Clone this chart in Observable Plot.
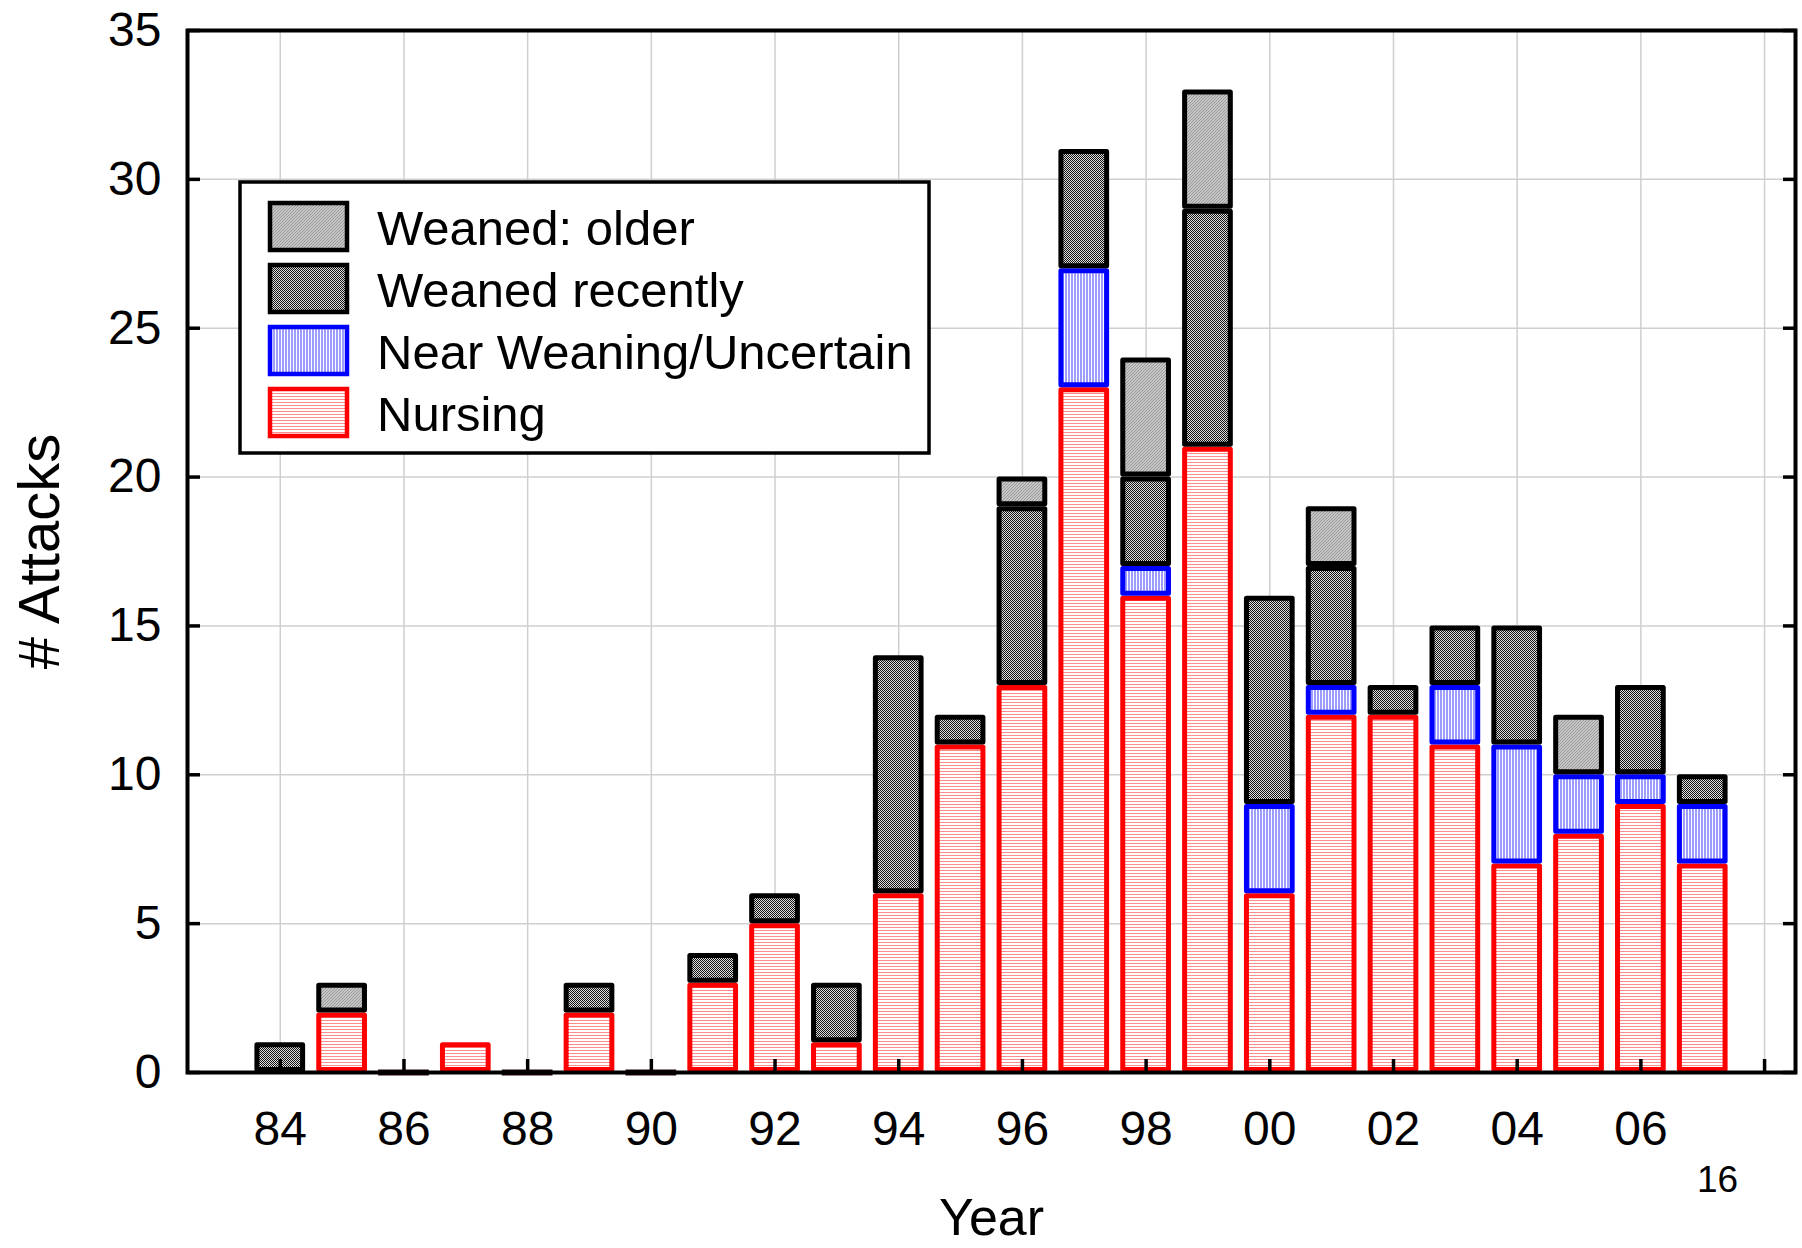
<!DOCTYPE html>
<html><head><meta charset="utf-8">
<script src="https://cdn.jsdelivr.net/npm/d3@7"></script>
<script src="https://cdn.jsdelivr.net/npm/@observablehq/plot@0.6"></script>
<style>
body{margin:0;background:#fff}
#chart{position:relative;width:1802px;height:1248px;overflow:hidden}
</style>
</head><body><div id="chart"></div>
<script>
// ---------- data ----------
const years = [1984,1985,1986,1987,1988,1989,1990,1991,1992,1993,1994,1995,1996,1997,1998,1999,2000,2001,2002,2003,2004,2005,2006,2007];
const nursing        = [0,2,0,1,0,2,0,3,5,1,6,11,13,23,16,21,6,12,12,11,7,8,9,7];
const nearWeaning    = [0,0,0,0,0,0,0,0,0,0,0,0,0,4,1,0,3,1,0,2,4,2,1,2];
const weanedRecently = [1,0,0,0,0,1,0,1,1,2,8,1,6,4,3,8,7,4,1,2,4,0,3,1];
const weanedOlder    = [0,1,0,0,0,0,0,0,0,0,0,0,1,0,4,4,0,2,0,0,0,2,0,0];
const seriesNames = ["Nursing","Near Weaning/Uncertain","Weaned recently","Weaned: older"];
const legendOrder = ["Weaned: older","Weaned recently","Near Weaning/Uncertain","Nursing"];
const yTicks = [0,5,10,15,20,25,30,35];
const xTicks = [1984,1986,1988,1990,1992,1994,1996,1998,2000,2002,2004,2006,2008];
const xTickLabels = ["84","86","88","90","92","94","96","98","00","02","04","06",""];
const yLabel = "# Attacks", xLabel = "Year", cornerNote = "16";

// ---------- styles ----------
const patternId = {"Nursing":"pNurs","Near Weaning/Uncertain":"pNear","Weaned recently":"pRecent","Weaned: older":"pOlder"};
const strokeOf = {"Nursing":"#ff0000","Near Weaning/Uncertain":"#0000ff","Weaned recently":"#000","Weaned: older":"#000"};
const FONT = "'Liberation Sans', Arial, Helvetica, sans-serif";

// build stacked table
const values = [nursing, nearWeaning, weanedRecently, weanedOlder];
const table = [];
const zeroRows = [];
years.forEach((yr, i) => {
  let cum = 0;
  seriesNames.forEach((s, k) => {
    const v = values[k][i];
    if (v > 0) table.push({year: yr, series: s, y1: cum, y2: cum + v});
    cum += v;
  });
  if (cum === 0) zeroRows.push({year: yr});
});

const halfW = 0.41;
const barMarks = seriesNames.map(s => Plot.rect(table.filter(d => d.series === s), {
  x1: d => d.year - halfW, x2: d => d.year + halfW, y1: "y1", y2: "y2",
  fill: `url(#${patternId[s]})`, stroke: strokeOf[s], strokeWidth: 5,
  strokeLinejoin: "round", inset: 2.5
}));

const svg = Plot.plot({
  width: 1802, height: 1248,
  marginLeft: 187, marginRight: 7, marginTop: 30, marginBottom: 176,
  style: {fontSize: "48px", fontFamily: FONT, color: "#000", background: "#fff"},
  x: {domain: [1982.5, 2008.5]},
  y: {domain: [0, 35]},
  marks: [
    Plot.gridX({ticks: xTicks, stroke: "#cfcfcf", strokeOpacity: 1, strokeWidth: 1.5}),
    Plot.gridY({ticks: yTicks, stroke: "#cfcfcf", strokeOpacity: 1, strokeWidth: 1.5}),
    ...barMarks,
    Plot.ruleY(zeroRows, {x1: d => d.year - halfW, x2: d => d.year + halfW, y: 0, stroke: "#200010", strokeWidth: 6}),
    Plot.frame({stroke: "#000", strokeWidth: 4}),
    Plot.axisY({ticks: yTicks, tickSize: -13, tickPadding: 39, strokeWidth: 3.5, label: null, fontSize: 48}),
    Plot.axisY({anchor: "right", ticks: yTicks, tickSize: -13, strokeWidth: 3.5, label: null, tickFormat: () => ""}),
    Plot.axisX({ticks: xTicks, tickSize: -13, tickPadding: 51, strokeWidth: 3.5, label: null, fontSize: 48,
                tickFormat: d => xTickLabels[xTicks.indexOf(d)]}),
    Plot.text([yLabel], {frameAnchor: "left", dx: -147, rotate: -90, lineAnchor: "middle", textAnchor: "middle", fontSize: 58}),
    Plot.text([xLabel], {frameAnchor: "bottom", dy: 146, lineAnchor: "middle", textAnchor: "middle", fontSize: 52}),
    Plot.text([cornerNote], {frameAnchor: "bottom-right", dx: -78, dy: 108, lineAnchor: "middle", textAnchor: "middle", fontSize: 37})
  ]
});

// ---------- patterns ----------
const defs = d3.select(svg).insert("defs", ":first-child");
function pat(id, w, h, bg, cells) {
  const p = defs.append("pattern").attr("id", id).attr("patternUnits", "userSpaceOnUse")
    .attr("width", w).attr("height", h);
  p.append("rect").attr("width", w).attr("height", h).attr("fill", bg);
  cells.forEach(c => p.append("rect").attr("x", c[0]).attr("y", c[1]).attr("width", c[2]).attr("height", c[3]).attr("fill", c[4]));
}
pat("pNurs", 4, 3, "#ffffff", [[0,0,4,1,"#ff8c8c"]]);
pat("pNear", 3, 4, "#ffffff", [[0,0,2,4,"#9d9dff"]]);
pat("pRecent", 2, 2, "#e0e0e0", [[0,0,1,1,"#111111"],[1,1,1,1,"#111111"]]);
pat("pOlder", 3, 3, "#c6c6c6", [[0,2,1,1,"#9a9a9a"],[1,1,1,1,"#9a9a9a"],[2,0,1,1,"#9a9a9a"]]);

// ---------- legend ----------
const lg = d3.select(svg).append("g").attr("font-family", FONT).attr("text-anchor", "start");
lg.append("rect").attr("x", 240).attr("y", 182).attr("width", 689).attr("height", 271)
  .attr("fill", "#fff").attr("stroke", "#000").attr("stroke-width", 3.5);
legendOrder.forEach((name, i) => {
  const y = 203 + i * 62;
  lg.append("rect").attr("x", 270).attr("y", y).attr("width", 77).attr("height", 47)
    .attr("fill", `url(#${patternId[name]})`).attr("stroke", strokeOf[name]).attr("stroke-width", 4.5);
  lg.append("text").attr("x", 377).attr("y", y + 24).attr("dy", "0.36em").attr("text-anchor", "start")
    .attr("font-size", 49).attr("fill", "#000").text(name);
});

document.getElementById("chart").appendChild(svg);
</script>
</body></html>
